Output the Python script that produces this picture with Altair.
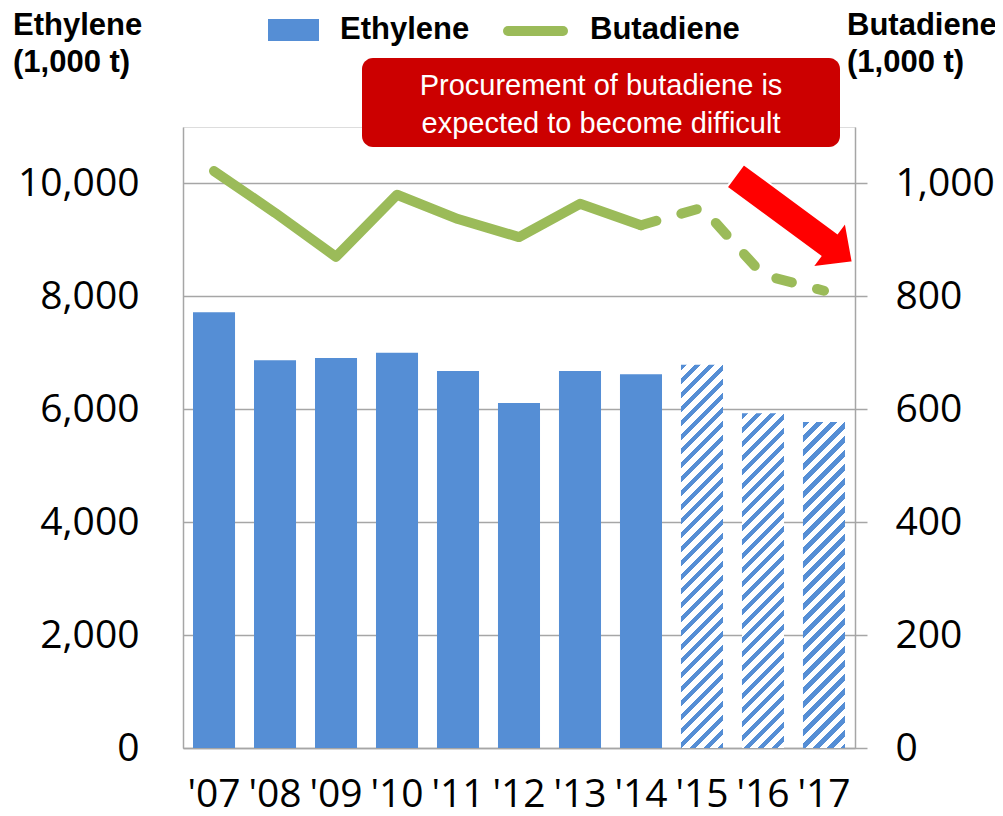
import altair as alt
import pandas as pd

# ---------------- data ----------------
years = ["'07", "'08", "'09", "'10", "'11", "'12", "'13", "'14", "'15", "'16", "'17"]
ethylene = [7720, 6870, 6910, 7000, 6680, 6110, 6680, 6620, 6790, 5930, 5775]
butadiene = [1022, 948, 870, 980, 937, 905, 964, 926, 957, 838, 810]
n_actual = 8  # '07-'14 actual, '15-'17 forecast (hatched / dashed)

df = pd.DataFrame({"year": years, "ethylene": ethylene, "butadiene": butadiene})
bars_actual = df.iloc[:n_actual]
line_actual = df.iloc[:n_actual]
line_forecast = df.iloc[n_actual - 1:]

# ---------------- style ----------------
W, H = 672, 621
ETH_MAX, BUT_MAX = 11000, 1100
BLUE = "#558ED5"
GREEN = "#9BBB59"
GRID = "#A6A6A6"
RED = "#CC0000"
BAR_W = 42
NUM_FONT = "Open Sans"
TXT_FONT = "Liberation Sans"


def hatch(value):
    """Diagonal (/) stripe fill as a hard-stop linear gradient in bbox units."""
    h = value / ETH_MAX * H
    w = BAR_W
    a = (w + h) / (w * w + h * h)
    n = (w + h) / 14.0
    f = 0.45
    stops = []
    k = 0
    while k / n < 1:
        s0 = round(k / n, 5)
        s1 = round(min((k + f) / n, 1), 5)
        s2 = round(min((k + 1) / n, 1), 5)
        stops += [
            {"offset": s0, "color": BLUE},
            {"offset": s1, "color": BLUE},
            {"offset": s1, "color": "white"},
            {"offset": s2, "color": "white"},
        ]
        k += 1
    return {"gradient": "linear", "x1": 0, "y1": 0, "x2": a * w, "y2": a * h, "stops": stops}


x_enc = alt.X(
    "year:N",
    sort=years,
    scale=alt.Scale(paddingInner=0.311, paddingOuter=0.164),
    axis=alt.Axis(
        title=None, labelAngle=0, labelFont=NUM_FONT, labelFontSize=39, labelColor="black",
        labelPadding=27, ticks=False, domainColor=GRID, domainWidth=1.5, labelOverlap=False,
    ),
)

y_left = alt.Y(
    "ethylene:Q",
    scale=alt.Scale(domain=[0, ETH_MAX], nice=False),
    axis=alt.Axis(
        title=None, values=[0, 2000, 4000, 6000, 8000, 10000], format=",.0f",
        labelFont=NUM_FONT, labelFontSize=39, labelColor="black", labelPadding=44,
        ticks=False, grid=True, gridColor=GRID, gridWidth=1.5,
        domainColor=GRID, domainWidth=1.5,
    ),
)

y_right = alt.Y(
    "butadiene:Q",
    scale=alt.Scale(domain=[0, BUT_MAX], nice=False),
    axis=alt.Axis(
        title=None, orient="right", values=[0, 200, 400, 600, 800, 1000], format=",.0f",
        labelFont=NUM_FONT, labelFontSize=39, labelColor="black", labelPadding=28,
        ticks=True, tickSize=12, tickColor=GRID, tickWidth=1.5, grid=False,
        domainColor=GRID, domainWidth=1.5,
    ),
)

bar_solid = alt.Chart(bars_actual).mark_bar(color=BLUE).encode(x=x_enc, y=y_left)
hatched = [
    alt.Chart(df.iloc[[i]]).mark_bar(fill=hatch(ethylene[i])).encode(x=x_enc, y=y_left)
    for i in range(n_actual, len(years))
]
bars = alt.layer(bar_solid, *hatched)

line_solid = alt.Chart(line_actual).mark_line(
    color=GREEN, strokeWidth=10, strokeCap="round", strokeJoin="round"
).encode(x=x_enc, y=y_right)
line_dash = alt.Chart(line_forecast).mark_line(
    color=GREEN, strokeWidth=10, strokeCap="round", strokeJoin="round", strokeDash=[16, 26]
).encode(x=x_enc, y=y_right)
lines = alt.layer(line_solid, line_dash)

one = pd.DataFrame({"k": [0]})

# axis titles
left_title = alt.Chart(one).mark_text(
    font=TXT_FONT, fontWeight="bold", fontSize=31, align="left", baseline="alphabetic",
    lineHeight=37, color="black",
).encode(x=alt.value(-170), y=alt.value(-92), text=alt.value(["Ethylene", "(1,000 t)"]))
right_title = alt.Chart(one).mark_text(
    font=TXT_FONT, fontWeight="bold", fontSize=31, align="left", baseline="alphabetic",
    lineHeight=37, color="black",
).encode(x=alt.value(664), y=alt.value(-92), text=alt.value(["Butadiene", "(1,000 t)"]))

# legend
leg_rect = alt.Chart(one).mark_rect(color=BLUE).encode(
    x=alt.value(85), x2=alt.value(136), y=alt.value(-108), y2=alt.value(-86)
)
leg_line = alt.Chart(one).mark_rule(color=GREEN, strokeWidth=10, strokeCap="round").encode(
    x=alt.value(325), x2=alt.value(380), y=alt.value(-96)
)
leg_t1 = alt.Chart(one).mark_text(
    font=TXT_FONT, fontWeight="bold", fontSize=31, align="left", baseline="alphabetic", color="black"
).encode(x=alt.value(157), y=alt.value(-88), text=alt.value("Ethylene"))
leg_t2 = alt.Chart(one).mark_text(
    font=TXT_FONT, fontWeight="bold", fontSize=31, align="left", baseline="alphabetic", color="black"
).encode(x=alt.value(407), y=alt.value(-88), text=alt.value("Butadiene"))

# callout
callout_box = alt.Chart(one).mark_rect(color=RED, cornerRadius=11).encode(
    x=alt.value(179), x2=alt.value(657), y=alt.value(-69), y2=alt.value(20)
)
callout_text = alt.Chart(one).mark_text(
    font=TXT_FONT, fontSize=29, align="center", baseline="alphabetic", lineHeight=38, color="white"
).encode(
    x=alt.value(418), y=alt.value(-32),
    text=alt.value(["Procurement of butadiene is", "expected to become difficult"]),
)

ARROW = "M -1 -0.196 L 0.593 -0.196 L 0.593 -0.384 L 1 0 L 0.593 0.384 L 0.593 0.196 L -1 0.196 Z"
arrow = alt.Chart(one).mark_point(
    shape=ARROW, filled=True, fill="#FF0000", stroke="white", strokeWidth=2,
    size=146 * 146, angle=36.4, opacity=1,
).encode(x=alt.value(611), y=alt.value(92))

chart = alt.layer(
    bars, lines, left_title, right_title, leg_rect, leg_line, leg_t1, leg_t2,
    callout_box, callout_text, arrow,
).resolve_scale(y="independent").properties(
    width=W, height=H,
    padding={"left": 175, "top": 119, "right": 140, "bottom": 60},
    autosize=alt.AutoSizeParams(type="none"),
).configure_view(stroke=None).configure(background="white")

chart.save("out.html", embed_options={"renderer": "svg", "actions": False})
